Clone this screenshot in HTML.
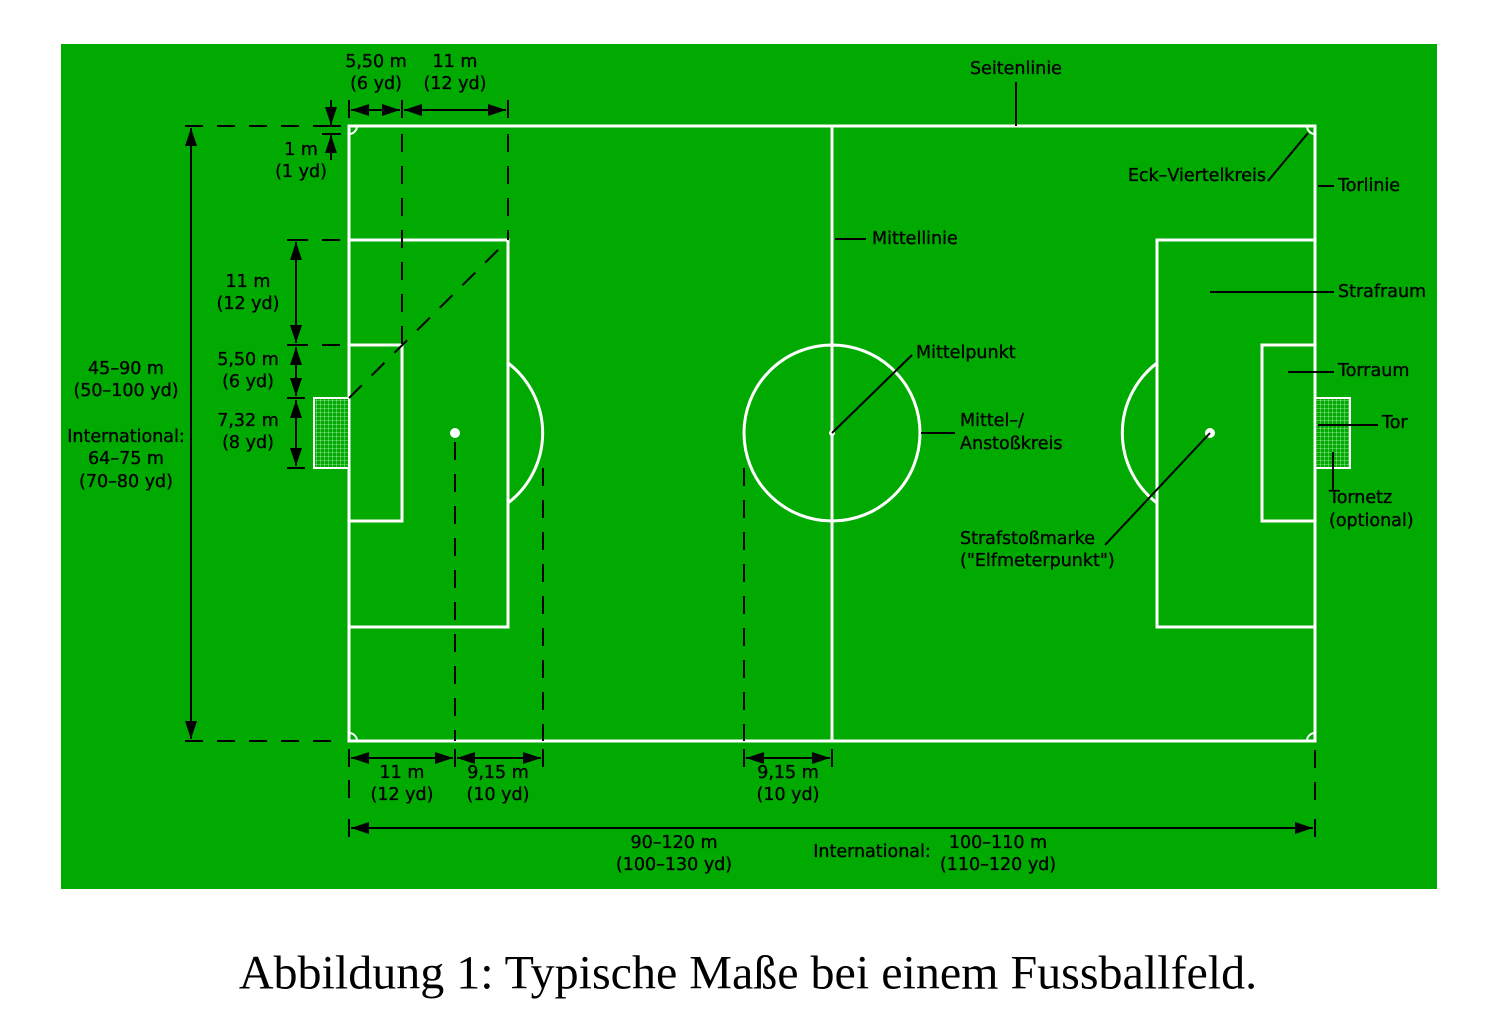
<!DOCTYPE html>
<html><head><meta charset="utf-8"><style>
html,body{margin:0;padding:0;background:#fff;width:1511px;height:1032px;overflow:hidden}
svg text{font-family:"DejaVu Sans","Liberation Sans",sans-serif;font-size:17.5px;fill:#000;stroke:#000;stroke-width:0.35;dominant-baseline:central}
svg text.cap{font-family:"Liberation Serif",serif;font-size:48px;stroke:none}
</style></head><body>
<svg width="1511" height="1032" viewBox="0 0 1511 1032">
<defs>
<marker id="ahb" viewBox="0 0 10 10" refX="10" refY="5" markerWidth="18" markerHeight="12" markerUnits="userSpaceOnUse" orient="auto-start-reverse" preserveAspectRatio="none"><path d="M0,0 L10,5 L0,10 z" fill="#000"/></marker>
<pattern id="net" width="4" height="4" patternUnits="userSpaceOnUse"><rect width="4" height="4" fill="#00aa00"/><path d="M0,0H4M0,0V4" stroke="#bfeebf" stroke-width="0.8"/></pattern>
</defs>
<rect x="61" y="44" width="1376" height="845" fill="#00aa00"/>
<g fill="none" stroke="#fff" stroke-width="3">
<rect x="349" y="126" width="966" height="615"/>
<line x1="832" y1="126" x2="832" y2="741"/>
<circle cx="832" cy="433" r="88"/>
<rect x="349" y="240" width="159" height="387"/>
<rect x="349" y="345" width="53" height="176"/>
<rect x="1157" y="240" width="158" height="387"/>
<rect x="1262" y="345" width="53" height="176"/>
<path d="M508,363 A88,88 0 0 1 508,503"/>
<path d="M1157,363 A88,88 0 0 0 1157,503"/>
<path d="M349,134 A8,8 0 0 0 357,126 M1307,126 A8,8 0 0 0 1315,134 M357,741 A8,8 0 0 0 349,733 M1315,733 A8,8 0 0 0 1307,741" stroke-width="2"/>
</g>
<rect x="314" y="398" width="35" height="70" fill="url(#net)" stroke="#fff" stroke-width="2"/>
<rect x="1315" y="398" width="35" height="70" fill="url(#net)" stroke="#fff" stroke-width="2"/>
<circle cx="832" cy="433" r="3" fill="#fff"/>
<circle cx="455" cy="433" r="5" fill="#fff"/>
<circle cx="1210" cy="433" r="5" fill="#fff"/>

<g stroke="#000" stroke-width="2" fill="none" stroke-dasharray="18,14">
<line x1="185" y1="126" x2="345" y2="126"/>
<line x1="185" y1="741" x2="345" y2="741"/>
<line x1="290" y1="240" x2="345" y2="240"/>
<line x1="290" y1="345" x2="345" y2="345"/>
<line x1="402" y1="134" x2="402" y2="345"/>
<line x1="508" y1="134" x2="508" y2="240"/>
<line x1="349" y1="398" x2="508" y2="240"/>
<line x1="455" y1="442" x2="455" y2="741"/>
<line x1="543" y1="468" x2="543" y2="741"/>
<line x1="744" y1="468" x2="744" y2="741"/>
<line x1="349" y1="780" x2="349" y2="810"/>
<line x1="1315" y1="750" x2="1315" y2="810"/>
</g>

<g stroke="#000" stroke-width="2" fill="none">
<line x1="349" y1="100" x2="349" y2="118"/><line x1="402" y1="100" x2="402" y2="118"/><line x1="508" y1="100" x2="508" y2="118"/>
<line x1="351" y1="110" x2="400" y2="110" marker-start="url(#ahb)" marker-end="url(#ahb)"/>
<line x1="404" y1="110" x2="506" y2="110" marker-start="url(#ahb)" marker-end="url(#ahb)"/>
<line x1="322" y1="126" x2="341" y2="126"/><line x1="322" y1="134" x2="341" y2="134"/>
<line x1="331" y1="100" x2="331" y2="125" marker-end="url(#ahb)"/>
<line x1="331" y1="160" x2="331" y2="135" marker-end="url(#ahb)"/>
<line x1="191" y1="128" x2="191" y2="739" marker-start="url(#ahb)" marker-end="url(#ahb)"/>
<line x1="287" y1="240" x2="305" y2="240"/><line x1="287" y1="345" x2="305" y2="345"/><line x1="287" y1="398" x2="305" y2="398"/><line x1="287" y1="468" x2="305" y2="468"/>
<line x1="296" y1="242" x2="296" y2="343" marker-start="url(#ahb)" marker-end="url(#ahb)"/>
<line x1="296" y1="347" x2="296" y2="396" marker-start="url(#ahb)" marker-end="url(#ahb)"/>
<line x1="296" y1="400" x2="296" y2="466" marker-start="url(#ahb)" marker-end="url(#ahb)"/>
<line x1="349" y1="749" x2="349" y2="767"/><line x1="455" y1="749" x2="455" y2="767"/><line x1="543" y1="749" x2="543" y2="767"/>
<line x1="744" y1="749" x2="744" y2="767"/><line x1="832" y1="749" x2="832" y2="767"/>
<line x1="351" y1="758" x2="453" y2="758" marker-start="url(#ahb)" marker-end="url(#ahb)"/>
<line x1="457" y1="758" x2="541" y2="758" marker-start="url(#ahb)" marker-end="url(#ahb)"/>
<line x1="746" y1="758" x2="830" y2="758" marker-start="url(#ahb)" marker-end="url(#ahb)"/>
<line x1="349" y1="819" x2="349" y2="837"/><line x1="1315" y1="819" x2="1315" y2="837"/>
<line x1="351" y1="828" x2="1313" y2="828" marker-start="url(#ahb)" marker-end="url(#ahb)"/>
</g>

<g stroke="#000" stroke-width="2" fill="none">
<line x1="1016" y1="82" x2="1016" y2="126"/>
<line x1="1268" y1="181" x2="1308" y2="133"/>
<line x1="1318" y1="186" x2="1334" y2="186"/>
<line x1="835" y1="239" x2="866" y2="239"/>
<line x1="1210" y1="292" x2="1334" y2="292"/>
<line x1="1288" y1="372" x2="1334" y2="372"/>
<line x1="1318" y1="425" x2="1378" y2="425"/>
<line x1="1333" y1="452" x2="1333" y2="490"/>
<line x1="832" y1="433" x2="912" y2="355"/>
<line x1="921" y1="433" x2="955" y2="433"/>
<line x1="1105" y1="545" x2="1210" y2="433"/>
</g>

<g>
<text x="376" y="62" text-anchor="middle">5,50 m</text><text x="376" y="84" text-anchor="middle">(6 yd)</text>
<text x="455" y="62" text-anchor="middle">11 m</text><text x="455" y="84" text-anchor="middle">(12 yd)</text>
<text x="301" y="150" text-anchor="middle">1 m</text><text x="301" y="172" text-anchor="middle">(1 yd)</text>
<text x="126" y="369" text-anchor="middle">45–90 m</text><text x="126" y="391" text-anchor="middle">(50–100 yd)</text>
<text x="126" y="437" text-anchor="middle">International:</text><text x="126" y="459" text-anchor="middle">64–75 m</text><text x="126" y="482" text-anchor="middle">(70–80 yd)</text>
<text x="248" y="282" text-anchor="middle">11 m</text><text x="248" y="304" text-anchor="middle">(12 yd)</text>
<text x="248" y="360" text-anchor="middle">5,50 m</text><text x="248" y="382" text-anchor="middle">(6 yd)</text>
<text x="248" y="421" text-anchor="middle">7,32 m</text><text x="248" y="443" text-anchor="middle">(8 yd)</text>
<text x="402" y="773" text-anchor="middle">11 m</text><text x="402" y="795" text-anchor="middle">(12 yd)</text>
<text x="498" y="773" text-anchor="middle">9,15 m</text><text x="498" y="795" text-anchor="middle">(10 yd)</text>
<text x="788" y="773" text-anchor="middle">9,15 m</text><text x="788" y="795" text-anchor="middle">(10 yd)</text>
<text x="674" y="843" text-anchor="middle">90–120 m</text><text x="674" y="865" text-anchor="middle">(100–130 yd)</text>
<text x="872" y="852" text-anchor="middle">International:</text>
<text x="998" y="843" text-anchor="middle">100–110 m</text><text x="998" y="865" text-anchor="middle">(110–120 yd)</text>
<text x="1016" y="69" text-anchor="middle">Seitenlinie</text>
<text x="1266" y="176" text-anchor="end">Eck–Viertelkreis</text>
<text x="1338" y="186">Torlinie</text>
<text x="872" y="239">Mittellinie</text>
<text x="1338" y="292">Strafraum</text>
<text x="1338" y="371">Torraum</text>
<text x="1382" y="423">Tor</text>
<text x="1329" y="498">Tornetz</text><text x="1329" y="521">(optional)</text>
<text x="916" y="353">Mittelpunkt</text>
<text x="960" y="421">Mittel–/</text><text x="960" y="444">Anstoßkreis</text>
<text x="960" y="539">Strafstoßmarke</text><text x="960" y="561">("Elfmeterpunkt")</text>
</g>
<text class="cap" x="748" y="973" text-anchor="middle">Abbildung 1: Typische Maße bei einem Fussballfeld.</text>
</svg>
</body></html>
